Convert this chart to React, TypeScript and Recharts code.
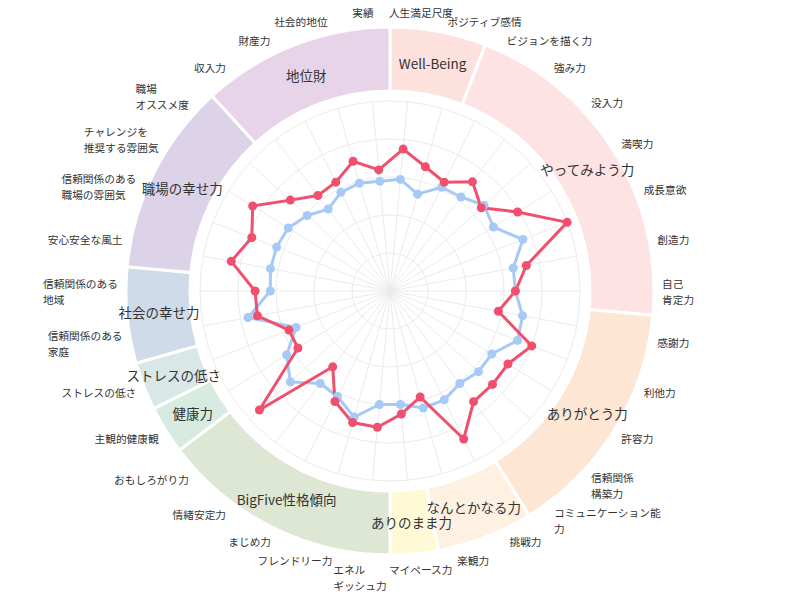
import React from 'react';
import { PieChart, Pie, Cell, RadarChart, Radar, PolarGrid, PolarAngleAxis, PolarRadiusAxis } from 'recharts';

const CATEGORIES = ['Well-Being', 'やってみよう力', 'ありがとう力', 'なんとかなる力', 'ありのまま力', 'BigFive性格傾向', '健康力', 'ストレスの低さ', '社会の幸せ力', '職場の幸せ力', '地位財'];
const CATEGORY_COUNTS = [2, 7, 5, 2, 1, 5, 1, 1, 2, 4, 4];
const CATEGORY_COLORS = ['#fde1dd', '#fde3e3', '#fde6d3', '#fef1e1', '#fefad6', '#dee7d3', '#d7ebe0', '#d7e8e7', '#cfdbe8', '#dcd3e9', '#e8d4e8'];

const ITEMS = [
    '人生満足尺度', 'ポジティブ感情', 'ビジョンを描く力', '強み力', '没入力', '満喫力', '成長意欲', '創造力', '自己\n肯定力',
    '感謝力', '利他力', '許容力', '信頼関係\n構築力', 'コミュニケーション能\n力', '挑戦力', '楽観力', 'マイペース力',
    'エネル\nギッシュ力', 'フレンドリー力', 'まじめ力', '情緒安定力', 'おもしろがり力', '主観的健康観', 'ストレスの低さ',
    '信頼関係のある\n家庭', '信頼関係のある\n地域', '安心安全な風土', '信頼関係のある\n職場の雰囲気', 'チャレンジを\n推奨する雰囲気',
    '職場\nオススメ度', '収入力', '財産力', '社会的地位', '実績',
];
const RED_VALUES = [75, 68, 64, 72, 65, 79, 100, 73, 66, 58, 80, 73, 73, 73, 87, 58, 65, 72, 72, 65, 50, 93, 57, 57, 71, 71, 85, 78, 85, 71, 63, 64, 71, 64];
const BLUE_VALUES = [59, 53, 61, 62, 67, 64, 75, 66, 66, 71, 72, 63, 63, 61, 64, 64, 60, 60, 69, 62, 61, 71, 64, 53, 76, 63, 64, 64, 63, 59, 54, 58, 59, 58];

const W = 800;
const H = 600;
const CX = 390;
const CY = 291;
const STEP = 360 / ITEMS.length;
const FONT = '"Noto Sans CJK JP", "Noto Sans", sans-serif';
const LABEL_R = 272;
const FS = 10.7;
const LH = 16;
const RED = '#f0506e';
const BLUE = '#a6c9f5';
const NO_MARGIN = { top: 0, right: 0, bottom: 0, left: 0 };

const radarData = ITEMS.map((item, i) => ({ item, red: RED_VALUES[i], blue: BLUE_VALUES[i] }));
const pieData = CATEGORIES.map((name, i) => ({ name, value: CATEGORY_COUNTS[i] }));

// place each label box just outside the grid, pushed sideways by its own width
const AxisTick = (props: any) => {
    const { x, y, payload } = props;
    const dx = x - CX;
    const dy = y - CY;
    const d = Math.hypot(dx, dy) || 1;
    const s = dx / d;
    const c = -dy / d;
    const px = CX + s * LABEL_R;
    const py = CY - c * LABEL_R;
    const lines = String(payload.value).split('\n');
    const w = Math.max(...lines.map((l) => l.length)) * FS;
    const h = lines.length * LH;
    const g = Math.sign(s) * Math.min(1, Math.abs(s) * 2);
    const left = px + (g * w) / 2 - w / 2;
    const top = py - (c * h) / 2 - h / 2;
    return (
        <text x={left} y={top} fontSize={FS} fill="#333" fontFamily={FONT} textAnchor="start">
            {lines.map((l, i) => (
                <tspan key={i} x={left} y={top + LH * i + LH / 2} dominantBaseline="central">
                    {l}
                </tspan>
            ))}
        </text>
    );
};

const RAD = Math.PI / 180;
const renderPieLabel = (props: any) => {
    const { cx, cy, midAngle, innerRadius, outerRadius, name } = props;
    const r = (innerRadius + outerRadius) / 2;
    const x = cx + r * Math.cos(-midAngle * RAD);
    const y = cy + r * Math.sin(-midAngle * RAD);
    return (
        <text x={x} y={y} fontSize={13.5} fill="#333" fontFamily={FONT} textAnchor="middle" dominantBaseline="central">
            {name}
        </text>
    );
};

const makeDot = (color: string) => (p: any) => (
    <circle key={`${color}-${p.index}`} cx={p.cx} cy={p.cy} r={4.5} fill={color} stroke="none" />
);

export default function App() {
    return (
        <div style={{ position: 'fixed', left: 0, top: 0, width: W, height: H, background: '#fff' }}>
            <div style={{ position: 'absolute', left: 0, top: 0 }}>
                <PieChart width={W} height={H} margin={NO_MARGIN}>
                    <Pie
                        data={pieData}
                        dataKey="value"
                        nameKey="name"
                        cx={CX}
                        cy={CY}
                        innerRadius={200}
                        outerRadius={264}
                        startAngle={90}
                        endAngle={-270}
                        stroke="#fff"
                        strokeWidth={3}
                        label={renderPieLabel}
                        labelLine={false}
                        isAnimationActive={false}
                    >
                        {pieData.map((d, i) => (
                            <Cell key={d.name} fill={CATEGORY_COLORS[i]} />
                        ))}
                    </Pie>
                </PieChart>
            </div>
            <div style={{ position: 'absolute', left: 0, top: 0 }}>
                <RadarChart
                    width={W}
                    height={H}
                    margin={NO_MARGIN}
                    data={radarData}
                    cx={CX}
                    cy={CY}
                    outerRadius={190}
                    startAngle={90 - STEP / 2}
                    endAngle={90 - STEP / 2 - 360}
                >
                    <PolarGrid gridType="circle" stroke="#ebebeb" />
                    <PolarAngleAxis dataKey="item" tick={AxisTick} tickLine={false} axisLine={false} />
                    <PolarRadiusAxis domain={[0, 100]} tickCount={6} tick={false} axisLine={false} />
                    <Radar
                        name="平均"
                        dataKey="blue"
                        stroke={BLUE}
                        strokeWidth={3}
                        fill="none"
                        fillOpacity={0}
                        dot={makeDot(BLUE)}
                        isAnimationActive={false}
                    />
                    <Radar
                        name="本人"
                        dataKey="red"
                        stroke={RED}
                        strokeWidth={3}
                        fill="none"
                        fillOpacity={0}
                        dot={makeDot(RED)}
                        isAnimationActive={false}
                    />
                </RadarChart>
            </div>
        </div>
    );
}
